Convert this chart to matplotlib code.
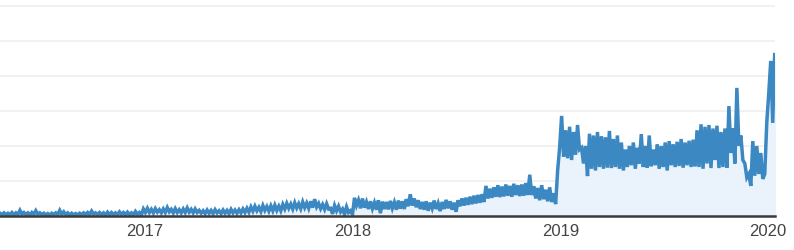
import matplotlib
matplotlib.use("Agg")
import matplotlib.pyplot as plt
import numpy as np
import pandas as pd

# Half-weekly samples (alternating weekday peak / weekend trough), arbitrary units
start_date = "2016-04-21"
step_days = 3.5

vals_2016 = [0.08, 0.04, 0.09, 0.03, 0.08, 0.04, 0.10, 0.03, 0.09, 0.04,
             0.16, 0.05, 0.10, 0.04, 0.09, 0.03, 0.10, 0.04, 0.15, 0.05,
             0.09, 0.04, 0.08, 0.03, 0.07, 0.03, 0.08, 0.04, 0.09, 0.04,
             0.16, 0.05, 0.12, 0.04, 0.09, 0.03, 0.08, 0.03, 0.07, 0.03,
             0.08, 0.04, 0.09, 0.04, 0.10, 0.04, 0.14, 0.05, 0.09, 0.04,
             0.10, 0.04, 0.09, 0.03, 0.11, 0.04, 0.10, 0.04, 0.09, 0.04,
             0.12, 0.05, 0.10, 0.04, 0.11, 0.04, 0.09, 0.03, 0.13, 0.05,
             0.10, 0.03, 0.20, 0.10]

vals_2017 = [0.22, 0.10, 0.19, 0.09, 0.21, 0.11, 0.18, 0.09, 0.20, 0.10,
             0.24, 0.12, 0.19, 0.09, 0.21, 0.10, 0.18, 0.09, 0.20, 0.10,
             0.23, 0.11, 0.19, 0.09, 0.20, 0.10,
             0.16, 0.08, 0.15, 0.07, 0.17, 0.08, 0.16, 0.07, 0.18, 0.09,
             0.15, 0.07, 0.17, 0.08, 0.16, 0.07, 0.19, 0.09, 0.17, 0.08,
             0.18, 0.09, 0.20, 0.10, 0.22, 0.11,
             0.26, 0.14, 0.28, 0.15, 0.25, 0.13, 0.30, 0.16, 0.27, 0.14,
             0.29, 0.15, 0.31, 0.16, 0.28, 0.15,
             0.33, 0.20, 0.36, 0.22, 0.34, 0.20, 0.38, 0.23, 0.35, 0.21,
             0.40, 0.24, 0.37, 0.22, 0.42, 0.24, 0.48, 0.26,
             0.36, 0.21, 0.33, 0.19, 0.35, 0.20,
             0.22, 0.06, 0.30, 0.15, 0.28, 0.12, 0.20, 0.05, 0.26, 0.10,
             0.15, 0.05]

vals_2018 = [0.52, 0.30,
             0.45, 0.22, 0.50, 0.24, 0.40, 0.20, 0.42, 0.21, 0.38, 0.18,
             0.45, 0.08, 0.41, 0.20, 0.40, 0.19, 0.43, 0.22, 0.39, 0.18,
             0.44, 0.21, 0.42, 0.20,
             0.48, 0.28, 0.62, 0.30, 0.50, 0.25,
             0.45, 0.20, 0.40, 0.18, 0.42, 0.15, 0.38, 0.22, 0.44, 0.20,
             0.36, 0.14, 0.40, 0.20, 0.46, 0.22, 0.42, 0.18, 0.38, 0.12,
             0.45, 0.28, 0.50, 0.30, 0.52, 0.32, 0.55, 0.34, 0.58, 0.36,
             0.60, 0.38, 0.62, 0.40,
             0.86, 0.50, 0.78, 0.52, 0.82, 0.55, 0.88, 0.54, 0.84, 0.56,
             0.90, 0.58, 0.86, 0.55, 0.92, 0.60, 0.88, 0.57, 0.90, 0.58,
             0.94, 0.60,
             1.18, 0.60,
             0.85, 0.50, 0.80, 0.45, 0.88, 0.48, 0.75, 0.42, 0.82, 0.40,
             0.65, 0.34,
             1.30, 1.95]

vals_2019 = [2.86, 1.70, 2.45, 1.65, 2.55, 1.60, 2.40, 1.75, 2.60, 1.90,
             1.95, 1.50, 2.00, 1.14,
             2.35, 1.35, 2.30, 1.30, 2.40, 1.40, 2.28, 1.35, 2.25, 1.38,
             2.43, 1.37,
             2.20, 1.40, 2.30, 1.35, 2.10, 1.30,
             1.90, 1.40, 2.00, 1.45, 2.10, 1.35, 1.95, 1.50, 2.34, 1.40,
             2.00, 1.38, 2.30, 1.42, 1.90, 1.45, 2.05, 1.35, 2.00, 1.40,
             2.10, 1.30, 2.14, 1.45, 2.05, 1.40, 2.12, 1.43, 2.20, 1.38,
             2.10, 1.45, 2.15, 1.40, 2.18, 1.42,
             2.45, 1.40, 2.62, 1.35, 2.55, 1.50, 2.60, 1.37, 2.50, 1.60,
             2.58, 1.37, 2.40, 1.40, 2.50, 1.38,
             3.14, 1.80, 2.50, 1.50, 3.66, 2.00, 2.30, 1.60, 1.50, 1.10,
             1.20, 0.86,
             2.14, 1.15, 2.00, 1.20, 1.80, 1.06,
             1.20, 2.66, 3.50, 4.43, 2.66, 4.66, 3.57]

tick_years = ["2017", "2018", "2019", "2020"]

values = np.array(vals_2016 + vals_2017 + vals_2018 + vals_2019)
dates = pd.Timestamp(start_date) + pd.to_timedelta(np.arange(len(values)) * step_days, unit="D")

W, H = 794, 250
fig = plt.figure(figsize=(W / 100, H / 100), dpi=100)
ax = fig.add_axes([0, 1 - 216 / H, 775 / W, 216 / H])

line_color = "#3B88C3"
fill_color = "#EAF2FB"

ax.fill_between(dates, 0, values, color=fill_color, linewidth=0, zorder=1)
ax.plot(dates, values, color=line_color, linewidth=2.5, solid_joinstyle="miter", zorder=3)

ax.set_xlim(pd.Timestamp(start_date), pd.Timestamp(start_date) + pd.Timedelta(days=1362))
ax.set_ylim(0, 216 / 35)

ax.set_yticks([1, 2, 3, 4, 5, 6])
ax.yaxis.grid(True, color="#EFEFEF", linewidth=1.2, zorder=0)
ax.set_axisbelow(True)
ax.tick_params(axis="y", left=False, labelleft=False)

ax.set_xticks([pd.Timestamp(y + "-01-01") for y in tick_years])
ax.set_xticklabels(tick_years, fontsize=12, color="#444444", family="Liberation Sans")
ax.tick_params(axis="x", length=0, pad=6)

for s in ["top", "right", "left"]:
    ax.spines[s].set_visible(False)
ax.spines["bottom"].set_color("#3A3A3A")
ax.spines["bottom"].set_linewidth(1.8)
ax.spines["bottom"].set_zorder(4)

fig.savefig("out.png", dpi=100)
